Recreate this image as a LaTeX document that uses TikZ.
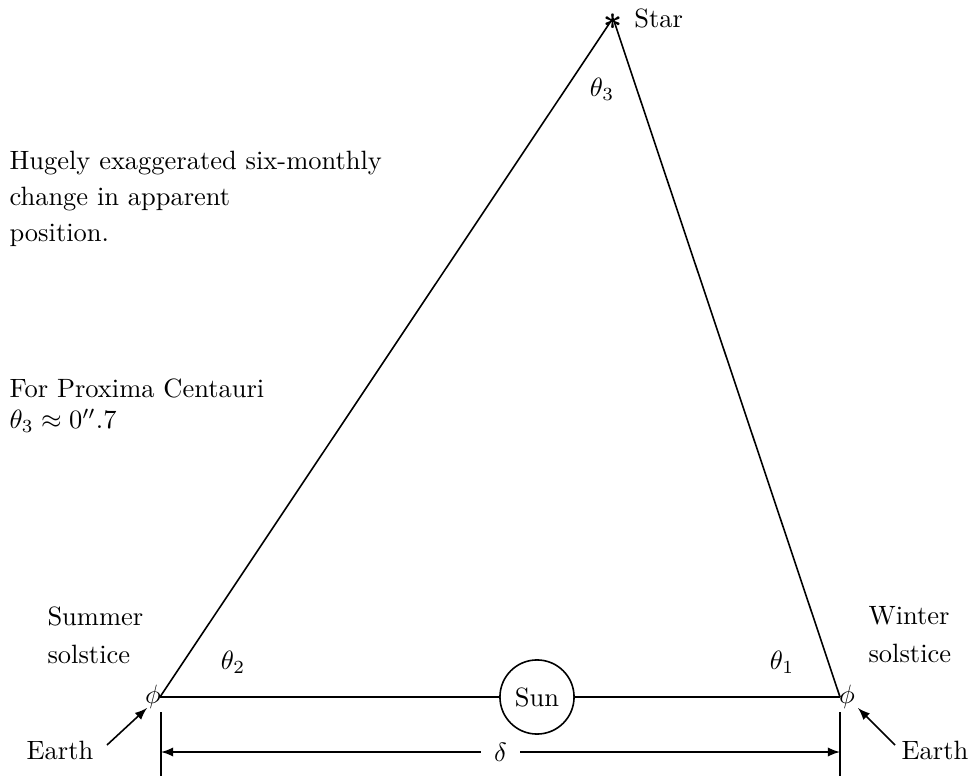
\documentclass[tikz,border=0pt]{standalone}
\usetikzlibrary{arrows,positioning,calc}
\begin{document}
\begin{tikzpicture}[x=0.3777pt,y=-0.3777pt,
				every node/.style={inner sep=0pt},
				line/.style={line width=0.6pt},
				note/.style={align=left,anchor=north west},
				>=latex
				]
				\useasboundingbox (0,0) rectangle (971,776);
				
				% the star and the two earths
				\coordinate (star) at (613,18);
				\coordinate (eL) at (160,697);
				\coordinate (eR) at (840,697);
				\node[scale=1.25,font=\boldmath,yshift=-1.2pt] (ast) at (star) {$\ast$};
				\node[right=4pt of ast,yshift=1.3pt] (startxt) {Star};
				\node (phiL) at ($(eL)+(-7,0)$) {$\phi$};
				\node (phiR) at ($(eR)+(7,0)$) {$\phi$};
				\node[draw,circle,line,minimum size=28pt] (sun) at (537,697) {Sun};
				
				% the triangle
				\draw[line] (star) -- (eL);
				\draw[line] (star) -- (eR);
				\draw[line] (eL) -- (sun);
				\draw[line] (sun) -- (eR);
				
				% the angles
				\node (th3) at (602,89) {$\theta_3$};
				\node (th2) at (233,662) {$\theta_2$};
				\node (th1) at (782,662) {$\theta_1$};
				
				% labels at the solstices
				\node[note] (summer) at (47,606) {Summer\\[2.4pt]solstice};
				\node[note] (winter) at (868,606) {Winter\\[2.4pt]solstice};
				\node (earthL) at (60,750) {Earth};
				\node (earthR) at (935,750) {Earth};
				\coordinate (tailL) at (107,745);
				\coordinate (tipL) at (147,708);
				\coordinate (tailR) at (895,745);
				\coordinate (tipR) at (858,708);
				\draw[->,line] (tailL) -- (tipL);
				\draw[->,line] (tailR) -- (tipR);
				
				% the baseline
				\coordinate (dL) at (161,752);
				\coordinate (dR) at (840,752);
				\draw[line] ($(dL)+(0,-40)$) -- ($(dL)+(0,24)$);
				\draw[line] ($(dR)+(0,-40)$) -- ($(dR)+(0,24)$);
				\draw[<->,line] (dL) -- node[fill=white,inner xsep=5pt] (delta) {$\delta$} (dR);
				
				% the notes on the left
				\node[note] (hugely) at (9,151) {Hugely exaggerated six-monthly\\[1.6pt]change in apparent\\[1.6pt]position.};
				\node[note] (proxima) at (9,378) {For Proxima Centauri\\$\theta_3\approx0''.7$};
			\end{tikzpicture}
\end{document}
